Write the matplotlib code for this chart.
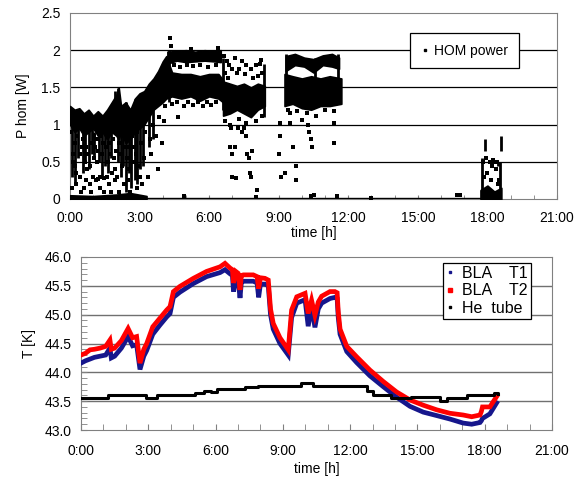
import matplotlib
matplotlib.use("Agg")
import matplotlib.pyplot as plt
from matplotlib.lines import Line2D
from matplotlib.ticker import MultipleLocator

plt.rcParams['font.family'] = ['Liberation Sans', 'DejaVu Sans']

# ---------------- HOM power (top) data ----------------
# dense regions: time [h], lower / upper power [W]
band_a_t = [0.0, 0.2, 0.4, 0.6, 0.8, 1.0, 1.2, 1.4, 1.6, 1.8, 2.0, 2.1, 2.2, 2.4, 2.6, 2.8, 3.0, 3.2, 3.4, 3.6, 3.8, 4.0, 4.15,
            4.4, 4.8, 5.2, 5.6, 6.0, 6.4, 6.6]
band_a_hi = [1.25, 1.2, 1.22, 1.15, 1.2, 1.12, 1.18, 1.12, 1.2, 1.3, 1.4, 1.5, 1.25, 1.3, 1.2, 1.35, 1.42, 1.45, 1.55, 1.62, 1.72, 1.85, 1.92,
             1.70, 1.68, 1.68, 1.65, 1.68, 1.68, 1.6]
band_a_lo = [1.0, 0.9, 0.95, 0.85, 0.9, 0.95, 0.85, 0.9, 0.8, 0.9, 0.85, 0.8, 0.9, 0.75, 0.8, 0.9, 0.95, 1.0, 1.1, 1.2, 1.25, 1.3, 1.35,
             1.38, 1.35, 1.38, 1.32, 1.38, 1.35, 1.3]

band_b_t = [4.2, 4.6, 5.0, 5.4, 5.8, 6.2, 6.5]
band_b_lo = [1.82, 1.86, 1.84, 1.85, 1.86, 1.85, 1.84]
band_b_hi = [1.98, 1.99, 2.0, 1.98, 2.0, 1.99, 2.0]

band_c_t = [6.6, 6.9, 7.2, 7.5, 7.8, 8.1, 8.4]
band_c_lo = [1.12, 1.15, 1.2, 1.15, 1.1, 1.2, 1.25]
band_c_hi = [1.58, 1.55, 1.52, 1.55, 1.5, 1.55, 1.52]

band_d_t = [9.25, 9.6, 10.0, 10.4, 10.8, 11.2, 11.7]
band_d_lo = [1.25, 1.28, 1.22, 1.2, 1.25, 1.25, 1.28]
band_d_hi = [1.68, 1.65, 1.62, 1.65, 1.62, 1.65, 1.62]

band_e_t = [9.3, 9.7, 10.1, 10.5, 10.9, 11.3, 11.6]
band_e_lo = [1.72, 1.8, 1.78, 1.7, 1.8, 1.78, 1.75]
band_e_hi = [1.92, 1.95, 1.9, 1.88, 1.93, 1.95, 1.9]

band_f_t = [0.0, 1.0, 2.0, 2.6, 3.3]
band_f_lo = [0.0, 0.0, 0.0, 0.0, 0.0]
band_f_hi = [0.05, 0.04, 0.06, 0.08, 0.04]

band_g_t = [17.7, 18.0, 18.3, 18.6]
band_g_lo = [0.0, 0.0, 0.0, 0.0]
band_g_hi = [0.12, 0.18, 0.1, 0.15]

# vertical streaks of points: time, low, high
streak_t = [0.1, 0.35, 0.55, 0.8, 0.95, 1.25, 1.5, 1.75, 1.95, 2.05, 2.2, 2.4, 2.65, 2.8, 3.0, 3.15,
            0.2, 0.65, 1.05, 1.4, 1.65, 2.3, 2.55, 2.9, 3.4, 3.6,
            4.25, 6.6, 8.35, 9.3, 10.55, 11.55, 17.75, 18.55, 17.9, 18.45, 18.6]
streak_lo = [0.3, 0.55, 0.35, 0.4, 0.6, 0.5, 0.45, 0.55, 0.9, 0.5, 0.3, 0.1, 0.15, 0.25, 0.4, 0.45,
             0.2, 0.5, 0.55, 0.3, 0.35, 0.45, 0.35, 0.2, 0.7, 0.8,
             1.3, 1.2, 1.1, 1.3, 1.3, 1.3, 0.0, 0.0, 0.65, 0.45, 0.65]
streak_hi = [1.2, 1.1, 1.05, 1.1, 1.0, 1.1, 1.0, 1.0, 1.45, 1.49, 1.1, 1.3, 1.2, 1.35, 1.4, 1.2,
             1.0, 0.95, 0.9, 0.9, 0.95, 1.0, 1.1, 1.3, 1.3, 1.4,
             2.0, 1.9, 1.82, 1.95, 1.9, 1.95, 0.55, 0.5, 0.8, 0.5, 0.85]

# isolated points: time, power
pts_t = [0.1, 0.15, 0.2, 0.25, 0.3, 0.45, 0.5, 0.6, 0.65, 0.7, 0.75, 0.85, 0.9, 1.0, 1.05, 1.1, 1.15, 1.2, 1.3,
         1.35, 1.45, 1.55, 1.6, 1.7, 1.8, 1.85, 1.95, 2.0, 2.1, 2.3, 2.35, 2.5, 2.55, 2.6, 2.75, 2.9, 3.05, 3.1,
         3.2, 3.25, 3.35, 3.45, 3.5, 3.6, 3.7, 3.8, 3.85, 3.95, 4.05, 4.1, 4.65, 4.3,
         0.05, 0.12, 0.22, 0.28, 0.4, 0.42, 0.48, 0.58, 0.68, 0.72, 0.78, 0.88, 0.92, 1.02, 1.08, 1.18, 1.22,
         1.28, 1.38, 1.42, 1.48, 1.58, 1.62, 1.68, 1.72, 1.78, 1.88, 1.92, 2.02, 2.12, 2.18, 2.25, 2.28, 2.42,
         2.45, 2.52, 2.58, 2.68, 2.72, 2.85, 2.88, 2.95, 3.02,
         4.4, 4.6, 4.9, 5.1, 5.3, 5.5, 5.75, 5.9, 6.1, 6.3, 4.5, 4.75, 5.05, 5.3, 5.6, 5.95, 6.3, 4.35, 5.2, 6.4,
         6.7, 6.8, 7.3, 7.55, 7.9, 8.3, 8.25, 6.65, 6.7, 6.9, 7.3, 7.6, 8.0, 8.3,
         9.4, 9.8, 10.2, 10.6, 11.0, 11.4, 9.5,
         6.75, 6.85, 7.0, 7.1, 7.2, 7.4, 7.6, 7.8, 8.0, 8.2, 8.1, 6.95, 7.1, 7.25, 7.4, 7.5, 7.6, 7.65, 7.7,
         7.85, 6.9, 7.0, 7.0, 7.15, 7.75, 7.8, 8.05, 9.05, 9.05, 9.0, 9.1, 9.25, 9.5, 9.6, 9.75, 9.75, 10.25,
         10.3, 10.4, 10.45, 11.4, 11.4, 10.0, 4.9, 8.0, 10.4, 10.5, 11.5, 13.0, 16.7, 16.8,
         17.8, 17.95, 18.1, 18.25, 18.4, 17.85, 18.0, 18.15, 18.35, 18.45, 18.2, 18.5, 18.3]
pts_w = [0.15, 0.6, 0.45, 0.2, 0.85, 0.3, 0.7, 0.15, 0.5, 0.25, 0.9, 0.2, 0.75, 0.3, 0.55, 0.25, 0.8, 0.27, 0.3,
         0.85, 0.28, 0.7, 0.3, 0.2, 0.35, 0.8, 0.25, 0.65, 0.1, 0.85, 0.2, 0.95, 0.4, 0.1, 0.7, 0.15, 0.75, 0.2,
         0.55, 0.9, 0.3, 0.8, 0.6, 1.0, 0.85, 0.4, 1.1, 0.75, 1.05, 1.25, 1.1, 2.17,
         0.9, 0.5, 0.75, 0.35, 0.95, 0.6, 0.1, 0.8, 0.7, 0.4, 0.6, 0.45, 0.1, 0.85, 0.7, 0.5, 0.65,
         0.15, 0.6, 0.75, 0.1, 0.85, 0.5, 0.75, 0.6, 0.1, 0.55, 0.4, 0.3, 0.75, 0.6, 0.45, 0.95, 0.7,
         0.55, 0.25, 0.7, 0.85, 0.5, 0.6, 0.9, 0.45, 0.3,
         1.28, 1.3, 1.25, 1.3, 1.27, 1.3, 1.25, 1.3, 1.27, 1.3, 1.8, 1.78, 1.8, 1.79, 1.8, 1.78, 1.8, 2.05, 2.02, 2.03,
         1.7, 1.62, 1.75, 1.68, 1.62, 1.7, 1.87, 1.92, 1.05, 1.0, 1.08, 1.02, 1.05, 1.12,
         1.2, 1.18, 1.15, 1.12, 1.2, 1.18, 1.15,
         1.85, 1.8, 1.75, 1.9, 1.7, 1.85, 1.8, 1.75, 1.8, 1.82, 1.65, 0.95, 0.7, 0.95, 0.9, 0.95, 0.85, 0.6, 0.55,
         0.65, 0.7, 0.6, 0.3, 0.28, 0.35, 0.3, 0.12, 1.02, 0.85, 0.6, 0.3, 0.35, 1.02, 0.7, 0.45, 0.25, 1.0,
         0.9, 0.8, 0.7, 1.02, 0.75, 1.06, 0.04, 0.03, 0.04, 0.06, 0.04, 0.02, 0.05, 0.06,
         0.5, 0.55, 0.5, 0.52, 0.5, 0.3, 0.35, 0.25, 0.4, 0.2, 0.45, 0.25, 0.5]

base_t = [3.3, 17.7]
base_w = [0.01, 0.01]

# ---------------- Temperatures (bottom) data ----------------
t_time = [0.0, 0.2, 0.4, 0.6, 0.85, 1.1, 1.29, 1.35, 1.5, 1.8, 2.1, 2.3, 2.48, 2.63, 2.8, 2.93, 3.2, 3.52, 3.82,
          3.97, 4.12, 4.41, 5.01, 5.6, 6.2, 6.42, 6.64, 6.75, 6.8, 6.9, 7.0, 7.09, 7.15, 7.24, 7.68, 7.85, 7.92,
          8.0, 8.2, 8.35, 8.45, 8.57, 8.87, 9.24, 9.39, 9.62, 9.99, 10.13, 10.28, 10.43, 10.58, 10.73, 11.1,
          11.32, 11.42, 11.47, 11.55, 11.85, 12.29, 12.88, 13.48, 14.07, 14.67, 15.26, 15.86, 16.45, 17.04,
          17.42, 17.79, 17.85, 17.9, 18.23, 18.53]
bla_t2 = [44.30, 44.33, 44.39, 44.40, 44.42, 44.45, 44.56, 44.40, 44.42, 44.55, 44.76, 44.60, 44.62, 44.16,
          44.40, 44.50, 44.79, 44.94, 45.08, 45.14, 45.40, 45.49, 45.63, 45.75, 45.83, 45.89, 45.81, 45.78,
          45.55, 45.75, 45.72, 45.43, 45.68, 45.69, 45.69, 45.66, 45.45, 45.64, 45.63, 45.60, 45.10, 44.85,
          44.60, 44.39, 45.08, 45.31, 45.37, 45.02, 45.25, 44.99, 45.22, 45.32, 45.40, 45.40, 45.38, 45.05,
          44.75, 44.45, 44.27, 44.04, 43.84, 43.66, 43.52, 43.43, 43.35, 43.29, 43.26, 43.23, 43.26, 43.32,
          43.40, 43.40, 43.58]
bla_t1 = [44.16, 44.20, 44.23, 44.26, 44.28, 44.30, 44.42, 44.25, 44.28, 44.42, 44.62, 44.46, 44.48, 44.05,
          44.28, 44.38, 44.66, 44.82, 44.96, 45.02, 45.30, 45.39, 45.54, 45.66, 45.73, 45.78, 45.71, 45.68,
          45.40, 45.64, 45.62, 45.29, 45.56, 45.58, 45.58, 45.55, 45.30, 45.53, 45.53, 45.50, 45.00, 44.75,
          44.50, 44.30, 44.95, 45.20, 45.26, 44.80, 45.14, 44.78, 45.10, 45.20, 45.28, 45.30, 45.28, 44.95,
          44.66, 44.36, 44.17, 43.94, 43.75, 43.57, 43.41, 43.31, 43.25, 43.19, 43.12, 43.10, 43.13, 43.16,
          43.20, 43.28, 43.47]

he_time = [0.0, 1.2, 2.9, 3.4, 5.1, 5.5, 5.8, 6.05, 7.3, 7.9, 9.8, 10.35, 12.75, 13.0, 13.8, 14.7, 16.0, 16.3,
           17.2, 18.4, 18.6]
he_tube = [43.55, 43.61, 43.55, 43.61, 43.65, 43.68, 43.66, 43.71, 43.74, 43.76, 43.81, 43.76, 43.68, 43.61,
           43.55, 43.57, 43.51, 43.55, 43.61, 43.65, 43.62]

x_ticks = [0, 3, 6, 9, 12, 15, 18, 21]
x_labels = ['0:00', '3:00', '6:00', '9:00', '12:00', '15:00', '18:00', '21:00']
p_ticks = [0, 0.5, 1, 1.5, 2, 2.5]
p_labels = ['0', '0.5', '1', '1.5', '2', '2.5']
t_ticks = [43.0, 43.5, 44.0, 44.5, 45.0, 45.5, 46.0]
t_labels = ['43.0', '43.5', '44.0', '44.5', '45.0', '45.5', '46.0']

# ---------------- figure ----------------
fig = plt.figure(figsize=(5.77, 4.8), dpi=100)
ax1 = fig.add_axes([70 / 577, 1 - 199 / 480, 487 / 577, 186 / 480])
ax2 = fig.add_axes([81 / 577, 1 - 430 / 480, 471 / 577, 173 / 480])

FS = 10
spine_col = '#808080'

# top
for t, lo, hi in [(band_a_t, band_a_lo, band_a_hi), (band_b_t, band_b_lo, band_b_hi),
                  (band_c_t, band_c_lo, band_c_hi), (band_d_t, band_d_lo, band_d_hi),
                  (band_e_t, band_e_lo, band_e_hi), (band_f_t, band_f_lo, band_f_hi),
                  (band_g_t, band_g_lo, band_g_hi)]:
    ax1.fill_between(t, lo, hi, color='black', linewidth=1.2, edgecolor='black', zorder=3)
ax1.vlines(streak_t, streak_lo, streak_hi, color='black', linewidth=2.0, zorder=3)
ax1.plot(pts_t, pts_w, linestyle='none', marker='s', markersize=2.3, markeredgewidth=0,
         color='black', zorder=3)
ax1.plot(base_t, base_w, color='black', linewidth=1.0, zorder=3)

ax1.set_xlim(0, 21)
ax1.set_ylim(0, 2.5)
ax1.set_xticks(x_ticks)
ax1.set_xticklabels(x_labels)
ax1.xaxis.set_minor_locator(MultipleLocator(1))
ax1.set_yticks(p_ticks)
ax1.set_yticklabels(p_labels)
ax1.tick_params(axis='x', which='both', direction='in', length=3, color=spine_col, pad=9, labelsize=FS)
ax1.tick_params(axis='y', length=0, pad=7, labelsize=FS)
for y in p_ticks[1:-1]:
    ax1.axhline(y, color='black', linewidth=0.9, zorder=1)
for s in ax1.spines.values():
    s.set_color(spine_col)
ax1.set_ylabel('P hom [W]', fontsize=FS, labelpad=8)
ax1.set_xlabel('time [h]', fontsize=FS, labelpad=0)
h1 = Line2D([], [], linestyle='none', marker='s', markersize=2, color='black')
leg1 = ax1.legend([h1], ['HOM power'], loc='upper left', bbox_to_anchor=(0.698, 0.892),
                  fontsize=FS, frameon=True, fancybox=False, framealpha=1, edgecolor='black',
                  handlelength=0.6, handletextpad=0.4, borderpad=0.75, borderaxespad=0)
leg1.get_frame().set_linewidth(0.9)
leg1.set_zorder(5)

# bottom
ax2.plot(t_time, bla_t1, color='#16168c', linewidth=3.4, zorder=3, solid_joinstyle='miter')
ax2.plot(t_time, bla_t2, color='#ff0000', linewidth=3.4, zorder=4, solid_joinstyle='miter')
ax2.plot(he_time, he_tube, color='black', linewidth=2.2, drawstyle='steps-post', zorder=5)

ax2.set_xlim(0, 21)
ax2.set_ylim(43.0, 46.0)
ax2.set_xticks(x_ticks)
ax2.set_xticklabels(x_labels)
ax2.xaxis.set_minor_locator(MultipleLocator(1))
ax2.set_yticks(t_ticks)
ax2.set_yticklabels(t_labels)
ax2.yaxis.set_minor_locator(MultipleLocator(0.1))
ax2.tick_params(axis='both', which='both', direction='in', length=4, color=spine_col, labelsize=FS)
ax2.tick_params(axis='x', pad=10)
ax2.tick_params(axis='y', pad=7)
for y in t_ticks[1:-1]:
    ax2.axhline(y, color='#707070', linewidth=1.0, zorder=1)
for s in ax2.spines.values():
    s.set_color(spine_col)
ax2.set_ylabel('T [K]', fontsize=FS, labelpad=6)
ax2.set_xlabel('time [h]', fontsize=FS, labelpad=3)
hb = Line2D([], [], linestyle='none', marker='s', markersize=2, color='#16168c')
hr = Line2D([], [], linestyle='none', marker='s', markersize=3, color='#ff0000')
hk = Line2D([], [], linestyle='none', marker='s', markersize=2, color='black')
leg2 = ax2.legend([hb, hr, hk], ['BLA    T1', 'BLA    T2', 'He  tube'], loc='upper left',
                  bbox_to_anchor=(0.768, 0.967), fontsize=FS + 1.5, frameon=True, fancybox=False,
                  framealpha=1, edgecolor='black', handlelength=0.5, handletextpad=0.5,
                  borderpad=0.2, labelspacing=0.15, borderaxespad=0)
leg2.get_frame().set_linewidth(0.9)
leg2.set_zorder(6)

fig.savefig('out.png', dpi=100)
